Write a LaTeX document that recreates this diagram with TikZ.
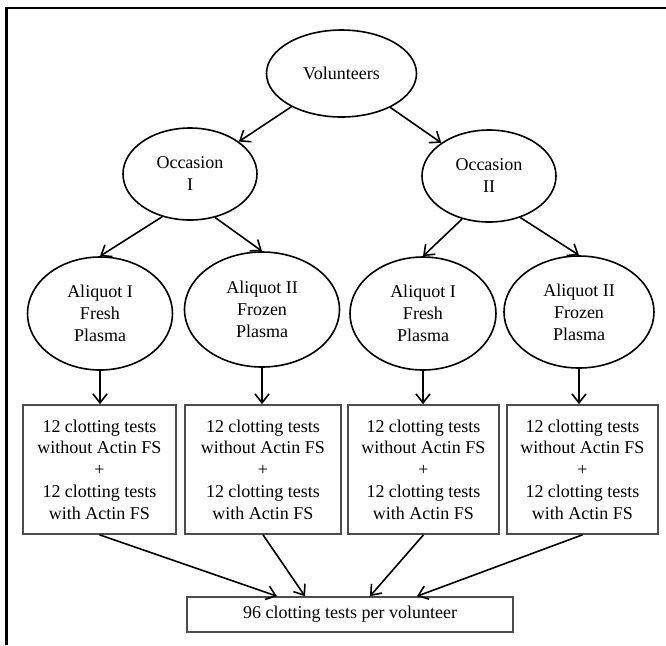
\documentclass[tikz,border=0pt]{standalone}
\usepackage{fontspec}
\setmainfont{Liberation Serif}
\usetikzlibrary{shapes.geometric,arrows.meta,positioning}

\begin{document}
\begin{tikzpicture}[
    x=0.5pt, y=-0.5pt,
    oval/.style={ellipse, draw, line width=0.8pt, inner sep=0pt, align=center, font=\fontsize{9}{11}\selectfont},
    testbox/.style={rectangle, draw=black!70, line width=0.8pt, minimum height=64.5pt, inner sep=0pt, align=center, font=\fontsize{9}{10.85}\selectfont},
    arr/.style={-{Straight Barb[length=4.5pt,width=7pt]}, line width=0.8pt}
]
    \useasboundingbox (0,0) rectangle (666,645);

    % Frame
    \draw[line width=1.2pt] (666,7.8) -- (6.7,7.8) -- (6.7,645);

    % Volunteers and occasions
    \node[oval, minimum width=75pt, minimum height=43.5pt] (volunteers) at (341.5,73.5) {Volunteers};
    \node[oval, minimum width=67pt, minimum height=46pt] (occ1) at (190,174) {Occasion\\I};
    \node[oval, minimum width=67pt, minimum height=46pt] (occ2) at (489,176) {Occasion\\II};

    % Aliquots
    \node[oval, minimum width=72.5pt, minimum height=56.5pt] (fresh1) at (100,313.5) {Aliquot I\\Fresh\\Plasma};
    \node[oval, minimum width=77.5pt, minimum height=57.5pt] (frozen1) at (262,309.5) {Aliquot II\\Frozen\\Plasma};
    \node[oval, minimum width=73pt, minimum height=56.5pt] (fresh2) at (423,313.5) {Aliquot I\\Fresh\\Plasma};
    \node[oval, minimum width=75pt, minimum height=56pt] (frozen2) at (579,312) {Aliquot II\\Frozen\\Plasma};

    % Clotting tests
    \node[testbox, minimum width=76.5pt] (tests1) at (99.5,469.5) {12 clotting tests\\without Actin FS\\+\\12 clotting tests\\with Actin FS};
    \node[testbox, minimum width=78pt] (tests2) at (263,469.5) {12 clotting tests\\without Actin FS\\+\\12 clotting tests\\with Actin FS};
    \node[testbox, minimum width=75.5pt] (tests3) at (423.5,469.5) {12 clotting tests\\without Actin FS\\+\\12 clotting tests\\with Actin FS};
    \node[testbox, minimum width=75.5pt] (tests4) at (582.5,469.5) {12 clotting tests\\without Actin FS\\+\\12 clotting tests\\with Actin FS};

    % Total
    \node[testbox, minimum width=163pt, minimum height=17.5pt] (total) at (350,614.5) {96 clotting tests per volunteer};

    % Arrows
    \draw[arr] (volunteers) -- (occ1);
    \draw[arr] (volunteers) -- (occ2);
    \draw[arr] (occ1.-123) -- (fresh1.north);
    \draw[arr] (occ1.-60) -- (frozen1.north);
    \draw[arr] (occ2.-122) -- (fresh2.north);
    \draw[arr] (occ2.-53) -- (frozen2.north);
    \draw[arr] (fresh1) -- (fresh1 |- tests1.north);
    \draw[arr] (frozen1) -- (frozen1 |- tests2.north);
    \draw[arr] (fresh2) -- (fresh2 |- tests3.north);
    \draw[arr] (frozen2) -- (frozen2 |- tests4.north);
    \draw[arr] (tests1.south) -- ([xshift=-36.5pt]total.north);
    \draw[arr] (tests2.south) -- ([xshift=-22.5pt]total.north);
    \draw[arr] (tests3.south) -- ([xshift=10pt]total.north);
    \draw[arr] (tests4.south) -- ([xshift=33.5pt]total.north);
\end{tikzpicture}
\end{document}
